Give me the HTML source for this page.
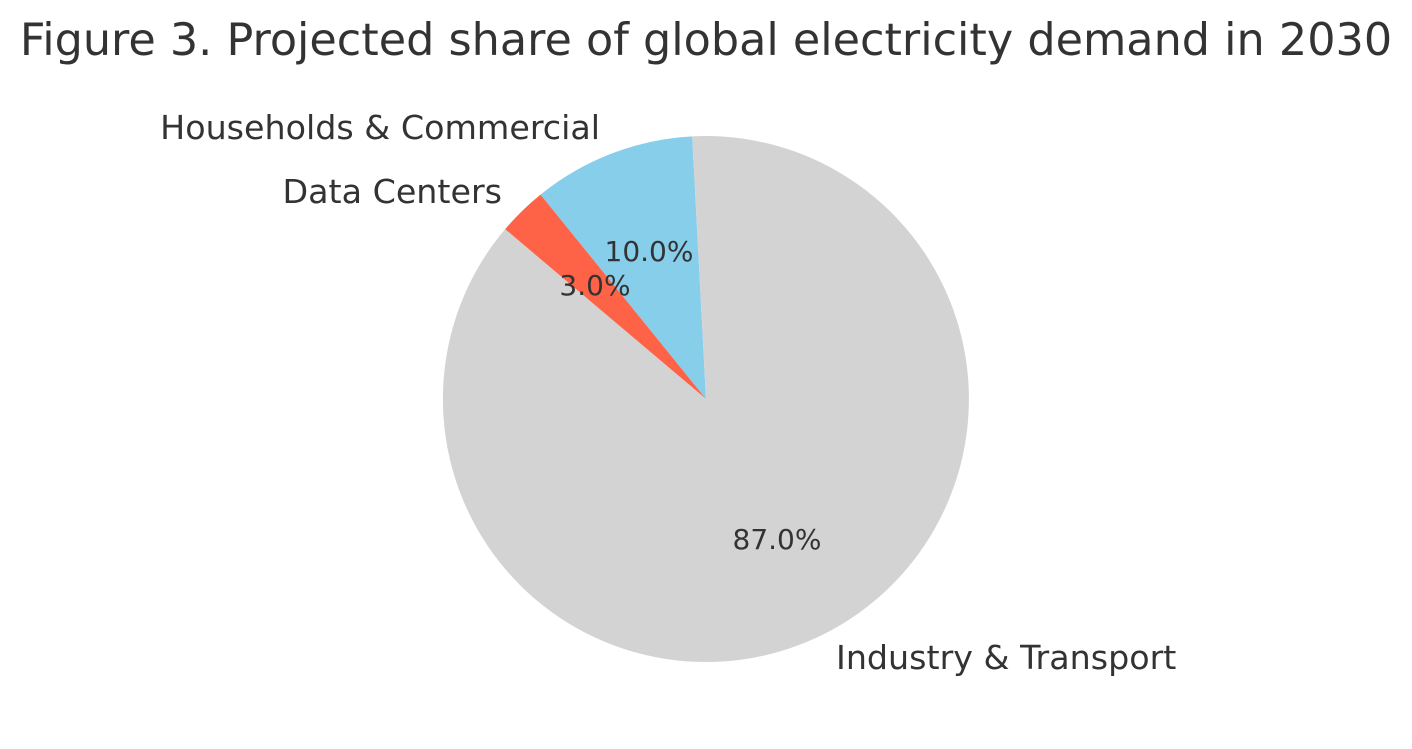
<!DOCTYPE html>
<html><head><meta charset="utf-8"><style>
html,body{margin:0;padding:0;background:#fff;}
svg{display:block;}
text{font-family:"DejaVu Sans","Liberation Sans",sans-serif;fill:#333;}
</style></head><body>
<svg width="1412" height="749" viewBox="0 0 1412 749">
<text x="706" y="55" font-size="44.5" text-anchor="middle">Figure 3. Projected share of global electricity demand in 2030</text>
<path d="M706,399 L692.2,136.4 A263,263 0 0 0 540.5,194.6 Z" fill="#87CEEB"/>
<path d="M706,399 L540.5,194.6 A263,263 0 0 0 505.1,229.2 Z" fill="#FF6347"/>
<path d="M706,399 L505.1,229.2 A263,263 0 1 0 692.2,136.4 Z" fill="#D3D3D3"/>
<text x="600" y="139" font-size="33.3" text-anchor="end">Households &amp; Commercial</text>
<text x="502" y="203" font-size="33.3" text-anchor="end">Data Centers</text>
<text x="836" y="669" font-size="33.3">Industry &amp; Transport</text>
<text x="649" y="261" font-size="28" text-anchor="middle">10.0%</text>
<text x="595" y="295" font-size="28" text-anchor="middle">3.0%</text>
<text x="777" y="549" font-size="28" text-anchor="middle">87.0%</text>
</svg>
</body></html>
